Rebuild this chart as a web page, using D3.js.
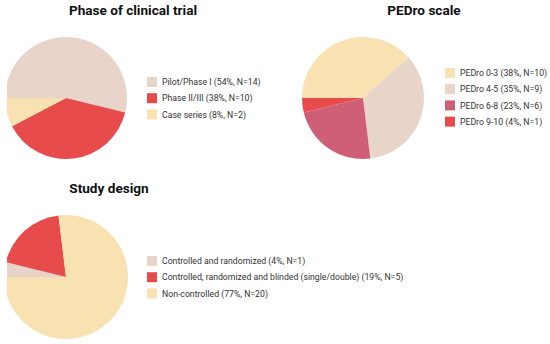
<!DOCTYPE html>
<html>
<head>
    <meta charset="utf-8">
    <title>Clinical trial characteristics</title>
    <script src="https://cdn.jsdelivr.net/npm/d3@7"></script>
    <style>
        body {
            margin: 0;
            background: white;
        }
        .title {
            font-family: Roboto, sans-serif;
            font-size: 13.6px;
            font-weight: bold;
            fill: #111;
        }
        .legend-label {
            font-family: Roboto, sans-serif;
            font-size: 8.7px;
            fill: #333;
        }
    </style>
</head>
<body>
    <div id="chart"></div>
    <script>
        // Data
        const phaseLabels = ["Pilot/Phase I (54%, N=14)", "Phase II/III (38%, N=10)", "Case series (8%, N=2)"];
        const phaseValues = [14, 10, 2];
        const phaseColors = ["#e9d4c9", "#e84b4b", "#f8e2b2"];

        const pedroLabels = ["PEDro 0-3 (38%, N=10)", "PEDro 4-5 (35%, N=9)", "PEDro 6-8 (23%, N=6)", "PEDro 9-10 (4%, N=1)"];
        const pedroValues = [10, 9, 6, 1];
        const pedroColors = ["#f8e2b2", "#e9d4c9", "#cf5f77", "#e84b4b"];

        const designLabels = ["Controlled and randomized (4%, N=1)", "Controlled, randomized and blinded (single/double) (19%, N=5)", "Non-controlled (77%, N=20)"];
        const designValues = [1, 5, 20];
        const designColors = ["#e9d4c9", "#e84b4b", "#f8e2b2"];

        const width = 550;
        const height = 344;

        const svg = d3.select("#chart")
            .append("svg")
            .attr("width", width)
            .attr("height", height);

        // left side of the picture is cropped a little
        svg.append("clipPath")
            .attr("id", "crop")
            .append("rect")
            .attr("x", 7)
            .attr("y", 0)
            .attr("width", width - 7)
            .attr("height", height);

        const panels = [
            {title: "Phase of clinical trial", tx: 133, ty: 15, cx: 66, cy: 98, r: 61,
             labels: phaseLabels, values: phaseValues, colors: phaseColors, lx: 147, ly: 82},
            {title: "PEDro scale", tx: 424, ty: 15, cx: 363, cy: 98, r: 61,
             labels: pedroLabels, values: pedroValues, colors: pedroColors, lx: 445, ly: 73},
            {title: "Study design", tx: 109, ty: 193, cx: 66, cy: 277, r: 62,
             labels: designLabels, values: designValues, colors: designColors, lx: 147, ly: 261}
        ];

        const pie = d3.pie()
            .sort(null)
            .startAngle(-Math.PI / 2)
            .endAngle(Math.PI * 1.5);

        panels.forEach(p => {
            svg.append("text")
                .attr("class", "title")
                .attr("x", p.tx)
                .attr("y", p.ty)
                .attr("text-anchor", "middle")
                .text(p.title);

            const arc = d3.arc().innerRadius(0).outerRadius(p.r);
            const color = d3.scaleOrdinal().domain(p.labels).range(p.colors);

            const g = svg.append("g")
                .attr("clip-path", "url(#crop)")
                .append("g")
                .attr("transform", `translate(${p.cx},${p.cy})`);

            g.selectAll("path")
                .data(pie(p.values))
                .join("path")
                .attr("d", arc)
                .attr("fill", (d, i) => color(p.labels[i]));

            // legend
            const y = d3.scalePoint()
                .domain(p.labels)
                .range([p.ly, p.ly + 16.2 * (p.labels.length - 1)]);

            const legend = svg.append("g");

            legend.selectAll("rect")
                .data(p.labels)
                .join("rect")
                .attr("x", p.lx)
                .attr("y", d => y(d) - 5)
                .attr("width", 10)
                .attr("height", 10)
                .attr("fill", d => color(d));

            legend.selectAll("text")
                .data(p.labels)
                .join("text")
                .attr("class", "legend-label")
                .attr("x", p.lx + 15)
                .attr("y", d => y(d) + 3.2)
                .text(d => d);
        });
    </script>
</body>
</html>
